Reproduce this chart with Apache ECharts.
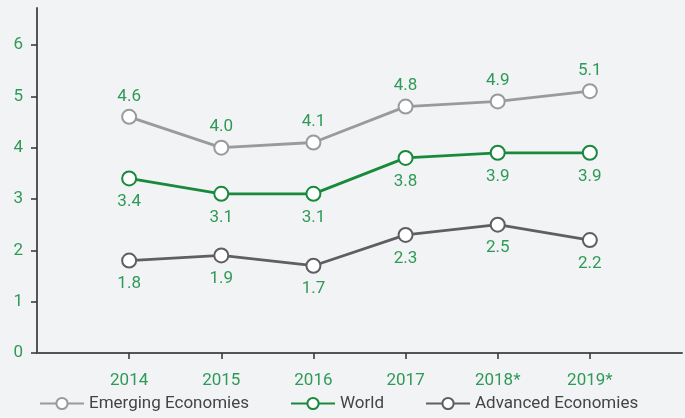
<!DOCTYPE html>
<html>
<head>
<meta charset="utf-8">
<script src="https://cdn.jsdelivr.net/npm/echarts@6/dist/echarts.min.js"></script>
<style>
  html, body { margin: 0; padding: 0; background: #f2f3f5; }
  #chart { width: 685px; height: 418px; }
</style>
</head>
<body>
<div id="chart"></div>
<script>
// data (empty slots pad the axis on both ends)
const years = ['', '2014', '2015', '2016', '2017', '2018*', '2019*', ''];
const emerging = [null, 4.6, 4.0, 4.1, 4.8, 4.9, 5.1, null];
const world = [null, 3.4, 3.1, 3.1, 3.8, 3.9, 3.9, null];
const advanced = [null, 1.8, 1.9, 1.7, 2.3, 2.5, 2.2, null];
const yTicks = [0, 1, 2, 3, 4, 5, 6];

const green = '#2f9a57';
const font = 'Roboto';

function lineSeries(name, data, color, pos, dist) {
  return {
    name: name,
    type: 'line',
    data: data,
    symbol: 'emptyCircle',
    symbolSize: 14,
    lineStyle: { color: color, width: 2.8 },
    itemStyle: { color: color, borderWidth: 3.2 },
    label: {
      show: true,
      position: pos,
      distance: dist,
      color: green,
      fontFamily: font,
      fontSize: 17,
      formatter: p => p.value.toFixed(1)
    },
    emphasis: { disabled: true },
    animation: false
  };
}

const chart = echarts.init(document.getElementById('chart'));
chart.setOption({
  backgroundColor: '#f2f3f5',
  grid: { left: 37, right: 3, top: 8, bottom: 65, containLabel: false },
  legend: {
    bottom: 1,
    left: 34,
    itemGap: 41,
    itemWidth: 44,
    itemHeight: 14,
    textStyle: { color: '#444', fontFamily: font, fontSize: 17 },
    data: ['Emerging Economies', 'World', 'Advanced Economies']
  },
  xAxis: {
    type: 'category',
    data: years,
    boundaryGap: false,
    axisLine: { lineStyle: { color: '#555', width: 2 } },
    axisTick: {
      length: 6,
      interval: (i) => i > 0 && i < years.length - 1,
      lineStyle: { color: '#333', width: 1.5 }
    },
    axisLabel: { color: green, fontFamily: font, fontSize: 17, margin: 19, interval: 0 },
    splitLine: { show: false }
  },
  yAxis: {
    type: 'value',
    min: 0,
    max: 6.72,
    axisLine: { show: true, lineStyle: { color: '#555', width: 2 } },
    axisTick: { show: true, length: 6, customValues: yTicks, lineStyle: { color: '#333', width: 1.5 } },
    axisLabel: { color: green, fontFamily: font, fontSize: 17, margin: 14, customValues: yTicks },
    splitLine: { show: false }
  },
  series: [
    lineSeries('Emerging Economies', emerging, '#999a9c', 'top', 4),
    lineSeries('World', world, '#198a3c', 'bottom', 7),
    lineSeries('Advanced Economies', advanced, '#5f5f61', 'bottom', 7)
  ]
});
</script>
</body>
</html>
